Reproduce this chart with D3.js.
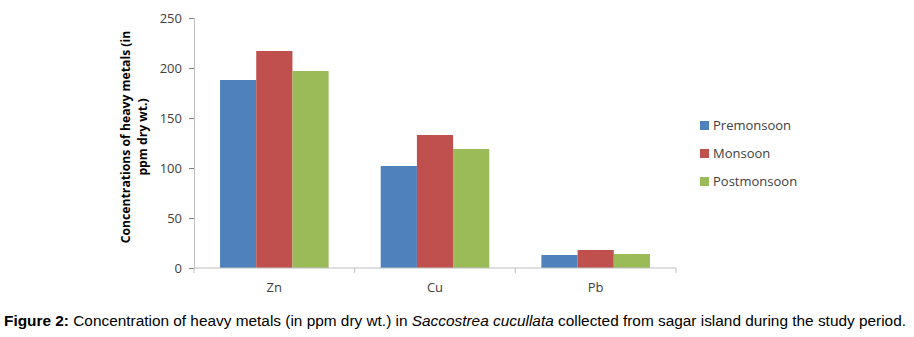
<!DOCTYPE html>
<html>
<head>
<meta charset="utf-8">
<script src="https://cdn.jsdelivr.net/npm/d3@7"></script>
<style>
  body { margin: 0; background: #fff; }
  svg { display: block; }
</style>
</head>
<body>
<div id="chart"></div>
<script>
// Concentration of heavy metals in Saccostrea cucullata
const metals = ['Zn', 'Cu', 'Pb'];
const seasons = ['Premonsoon', 'Monsoon', 'Postmonsoon'];
const premonsoon = [188, 102, 13];
const monsoon = [217, 133, 18];
const postmonsoon = [197, 119, 14];
const yTicks = [0, 50, 100, 150, 200, 250];

const seriesValues = [premonsoon, monsoon, postmonsoon];
const colors = ['#4F81BD', '#C0504D', '#9BBB59'];
const textColor = '#404040';
const axisColor = '#BFBFBF';
const labelFont = '"Open Sans", "Noto Sans", sans-serif';

const W = 914, H = 337;
const plot = { left: 194, right: 676, top: 18, bottom: 268 };

const svg = d3.select('#chart').append('svg')
  .attr('width', W)
  .attr('height', H);

const xScale = d3.scaleBand()
  .domain(metals)
  .range([plot.left, plot.right]);

const inner = d3.scaleBand()
  .domain(seasons)
  .range([0, xScale.bandwidth()])
  .paddingOuter(0.72)
  .paddingInner(0);

const yScale = d3.scaleLinear()
  .domain([0, 250])
  .range([plot.bottom, plot.top]);

// y axis
const yAxis = svg.append('g')
  .attr('transform', `translate(${plot.left},0)`)
  .call(d3.axisLeft(yScale).tickValues(yTicks).tickSize(5).tickPadding(7));
yAxis.select('.domain').attr('stroke', axisColor);
yAxis.selectAll('.tick line').attr('stroke', '#808080');
yAxis.selectAll('text')
  .attr('fill', textColor)
  .attr('font-family', labelFont)
  .attr('font-size', '13px');

// bars
const groups = svg.append('g').selectAll('g')
  .data(metals)
  .join('g')
  .attr('transform', d => `translate(${xScale(d)},0)`);

groups.selectAll('rect')
  .data((m, i) => seasons.map((s, j) => ({ season: s, value: seriesValues[j][i], color: colors[j] })))
  .join('rect')
  .attr('x', d => inner(d.season))
  .attr('width', inner.bandwidth())
  .attr('y', d => yScale(d.value))
  .attr('height', d => yScale(0) - yScale(d.value))
  .attr('fill', d => d.color);

// x axis
const xAxis = svg.append('g')
  .attr('transform', `translate(0,${plot.bottom})`);
xAxis.append('line')
  .attr('x1', plot.left).attr('x2', plot.right)
  .attr('stroke', axisColor);
const boundaries = metals.map(m => xScale(m)).concat([plot.right]);
xAxis.selectAll('.xtick')
  .data(boundaries)
  .join('line')
  .attr('class', 'xtick')
  .attr('x1', d => d).attr('x2', d => d)
  .attr('y1', 0).attr('y2', 5)
  .attr('stroke', axisColor);
xAxis.selectAll('.xlabel')
  .data(metals)
  .join('text')
  .attr('class', 'xlabel')
  .attr('x', d => xScale(d) + xScale.bandwidth() / 2)
  .attr('y', 24)
  .attr('text-anchor', 'middle')
  .attr('fill', textColor)
  .attr('font-family', labelFont)
  .attr('font-size', '13px')
  .text(d => d);

// y axis title
const yTitle = svg.append('text')
  .attr('transform', 'translate(130,137) rotate(-90)')
  .attr('text-anchor', 'middle')
  .attr('fill', '#000')
  .attr('font-family', labelFont)
  .attr('font-size', '12.2px')
  .attr('font-weight', 'bold');
yTitle.append('tspan').attr('x', 0).attr('dy', 0).text('Concentrations of heavy metals (in');
yTitle.append('tspan').attr('x', 0).attr('dy', 17).text('ppm dry wt.)');

// legend
const legend = svg.append('g').attr('transform', 'translate(700,121)');
const items = legend.selectAll('g')
  .data(seasons)
  .join('g')
  .attr('transform', (d, i) => `translate(0,${i * 28})`);
items.append('rect')
  .attr('width', 9).attr('height', 9)
  .attr('fill', (d, i) => colors[i]);
items.append('text')
  .attr('x', 13)
  .attr('y', 9)
  .attr('fill', textColor)
  .attr('font-family', labelFont)
  .attr('font-size', '13px')
  .text(d => d);

// caption
const caption = svg.append('text')
  .attr('x', 4)
  .attr('y', 326)
  .attr('font-family', '"Liberation Sans Narrow", "Liberation Sans", Arial, sans-serif')
  .attr('font-size', '14px')
  .attr('fill', '#000')
  .attr('textLength', 902)
  .attr('lengthAdjust', 'spacingAndGlyphs');
caption.append('tspan').attr('font-weight', 'bold').text('Figure 2:');
caption.append('tspan').text(' Concentration of heavy metals (in ppm dry wt.) in ');
caption.append('tspan').attr('font-style', 'italic').text('Saccostrea cucullata');
caption.append('tspan').text(' collected from sagar island during the study period.');
</script>
</body>
</html>
